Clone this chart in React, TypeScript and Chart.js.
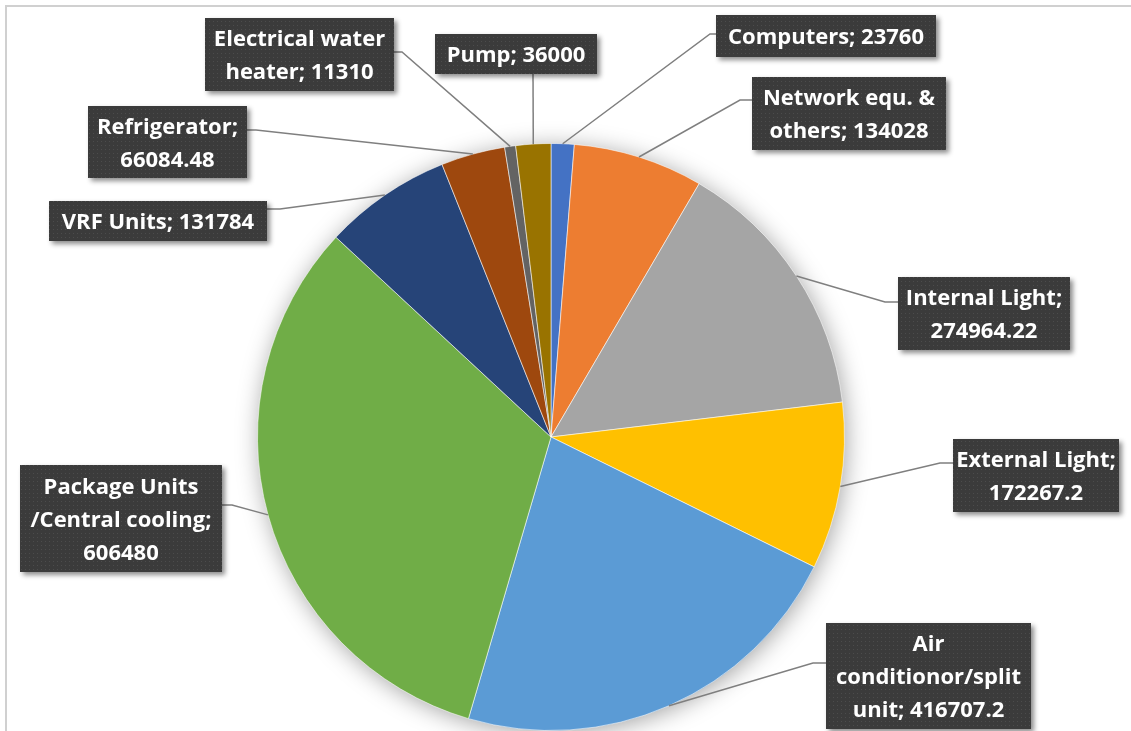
import React, { useEffect, useRef } from 'react';
import { Chart, registerables } from 'chart.js';

Chart.register(...registerables);

const categories = [
  'Computers',
  'Network equ. & others',
  'Internal Light',
  'External Light',
  'Air conditionor/split unit',
  'Package Units /Central cooling',
  'VRF Units',
  'Refrigerator',
  'Electrical water heater',
  'Pump',
];
const energyValues = [23760, 134028, 274964.22, 172267.2, 416707.2, 606480, 131784, 66084.48, 11310, 36000];
const sliceColors = ['#4472C4', '#ED7D31', '#A5A5A5', '#FFC000', '#5B9BD5', '#70AD47', '#264478', '#9E480E', '#636363', '#997300'];

// Label box layout: box rect, leader bend point and attach point on the box
const labelLayout = [
  { x: 716, y: 15, w: 220, h: 42, bend: [710, 34], attach: [716, 34] },
  { x: 752, y: 77, w: 194, h: 73, bend: [740, 100], attach: [752, 100] },
  { x: 898, y: 277, w: 172, h: 73, bend: [885, 302], attach: [898, 302] },
  { x: 953, y: 439, w: 166, h: 73, bend: [940, 463], attach: [953, 463] },
  { x: 826, y: 623, w: 205, h: 106, bend: [813, 663], attach: [826, 663] },
  { x: 20, y: 465, w: 202, h: 107, bend: [232, 505], attach: [222, 505] },
  { x: 49, y: 201, w: 218, h: 40, bend: [280, 209], attach: [267, 209] },
  { x: 88, y: 106, w: 159, h: 72, bend: [256, 130], attach: [247, 130] },
  { x: 205, y: 18, w: 189, h: 73, bend: [402, 52], attach: [394, 52] },
  { x: 435, y: 34, w: 162, h: 40, bend: [533, 74], attach: [533, 74] },
];

const FONT = 'bold 22px "Open Sans", Lato, sans-serif';
const LINE_H = 33;

function wrapText(ctx: CanvasRenderingContext2D, text: string, maxW: number): string[] {
  const words = text.split(' ');
  const lines: string[] = [];
  let cur = '';
  for (const w of words) {
    const test = cur ? cur + ' ' + w : w;
    if (!cur || ctx.measureText(test).width <= maxW) cur = test;
    else {
      lines.push(cur);
      cur = w;
    }
  }
  if (cur) lines.push(cur);
  return lines;
}

function makePattern(ctx: CanvasRenderingContext2D) {
  const c = document.createElement('canvas');
  c.width = 4;
  c.height = 4;
  const p = c.getContext('2d')!;
  p.fillStyle = '#3b3b3b';
  p.fillRect(0, 0, 4, 4);
  p.fillStyle = '#4c4c4c';
  p.fillRect(1, 1, 1, 1);
  return ctx.createPattern(c, 'repeat') || '#3b3b3b';
}

const framePlugin = {
  id: 'frame',
  beforeDraw(chart: any) {
    const ctx = chart.ctx;
    ctx.save();
    ctx.fillStyle = '#ffffff';
    ctx.fillRect(0, 0, chart.width, chart.height);
    ctx.strokeStyle = '#d0d0d0';
    ctx.lineWidth = 2;
    ctx.beginPath();
    ctx.moveTo(6, chart.height + 2);
    ctx.lineTo(6, 6);
    ctx.lineTo(chart.width + 2, 6);
    ctx.stroke();
    ctx.restore();
  },
};

const shadowPlugin = {
  id: 'pieShadow',
  beforeDatasetsDraw(chart: any) {
    const meta = chart.getDatasetMeta(0);
    const arc = meta.data[0];
    if (!arc) return;
    const ctx = chart.ctx;
    ctx.save();
    ctx.shadowColor = 'rgba(0,0,0,0.38)';
    ctx.shadowBlur = 24;
    ctx.shadowOffsetX = 2;
    ctx.shadowOffsetY = 3;
    ctx.beginPath();
    ctx.arc(arc.x, arc.y, arc.outerRadius - 1, 0, Math.PI * 2);
    ctx.fillStyle = '#ffffff';
    ctx.fill();
    ctx.restore();
  },
};

const calloutPlugin = {
  id: 'callouts',
  afterDatasetsDraw(chart: any) {
    const meta = chart.getDatasetMeta(0);
    const ctx: CanvasRenderingContext2D = chart.ctx;
    const pattern = makePattern(ctx);
    const data = chart.data.datasets[0].data as number[];
    const labels = chart.data.labels as string[];
    // leader lines
    ctx.save();
    ctx.strokeStyle = '#7f7f7f';
    ctx.lineWidth = 1.5;
    meta.data.forEach((arc: any, i: number) => {
      const L = labelLayout[i];
      const mid = (arc.startAngle + arc.endAngle) / 2;
      const sx = arc.x + Math.cos(mid) * arc.outerRadius;
      const sy = arc.y + Math.sin(mid) * arc.outerRadius;
      ctx.beginPath();
      ctx.moveTo(sx, sy);
      ctx.lineTo(L.bend[0], L.bend[1]);
      ctx.lineTo(L.attach[0], L.attach[1]);
      ctx.stroke();
    });
    ctx.restore();
    // boxes and text
    meta.data.forEach((_arc: any, i: number) => {
      const L = labelLayout[i];
      ctx.save();
      ctx.shadowColor = 'rgba(0,0,0,0.45)';
      ctx.shadowBlur = 5;
      ctx.shadowOffsetX = 3;
      ctx.shadowOffsetY = 3;
      ctx.fillStyle = pattern as any;
      ctx.fillRect(L.x, L.y, L.w, L.h);
      ctx.restore();

      ctx.save();
      ctx.font = FONT;
      ctx.fillStyle = '#ffffff';
      ctx.textAlign = 'center';
      ctx.textBaseline = 'middle';
      const text = `${labels[i]}; ${data[i]}`;
      const lines = wrapText(ctx, text, L.w - 4);
      const total = lines.length * LINE_H;
      const top = L.y + (L.h - total) / 2;
      lines.forEach((ln, k) => {
        ctx.fillText(ln, L.x + L.w / 2, top + LINE_H * k + LINE_H / 2 + 2);
      });
      ctx.restore();
    });
  },
};

export default function App() {
  const canvasRef = useRef<HTMLCanvasElement | null>(null);

  useEffect(() => {
    if (!canvasRef.current) return;
    const chart = new Chart(canvasRef.current, {
      type: 'pie',
      data: {
        labels: categories,
        datasets: [
          {
            data: energyValues,
            backgroundColor: sliceColors,
            borderColor: 'rgba(255,255,255,0.55)',
            borderWidth: 1,
          },
        ],
      },
      options: {
        animation: false,
        responsive: true,
        maintainAspectRatio: false,
        layout: { padding: { left: 257, right: 286, top: 143, bottom: 0 } },
        plugins: {
          legend: { display: false },
          tooltip: { enabled: false },
        },
      },
      plugins: [framePlugin, shadowPlugin, calloutPlugin],
    });
    return () => chart.destroy();
  }, []);

  return (
    <div style={{ position: 'fixed', left: 0, top: 0, width: 1131, height: 731, background: '#fff' }}>
      <canvas ref={canvasRef} />
    </div>
  );
}
